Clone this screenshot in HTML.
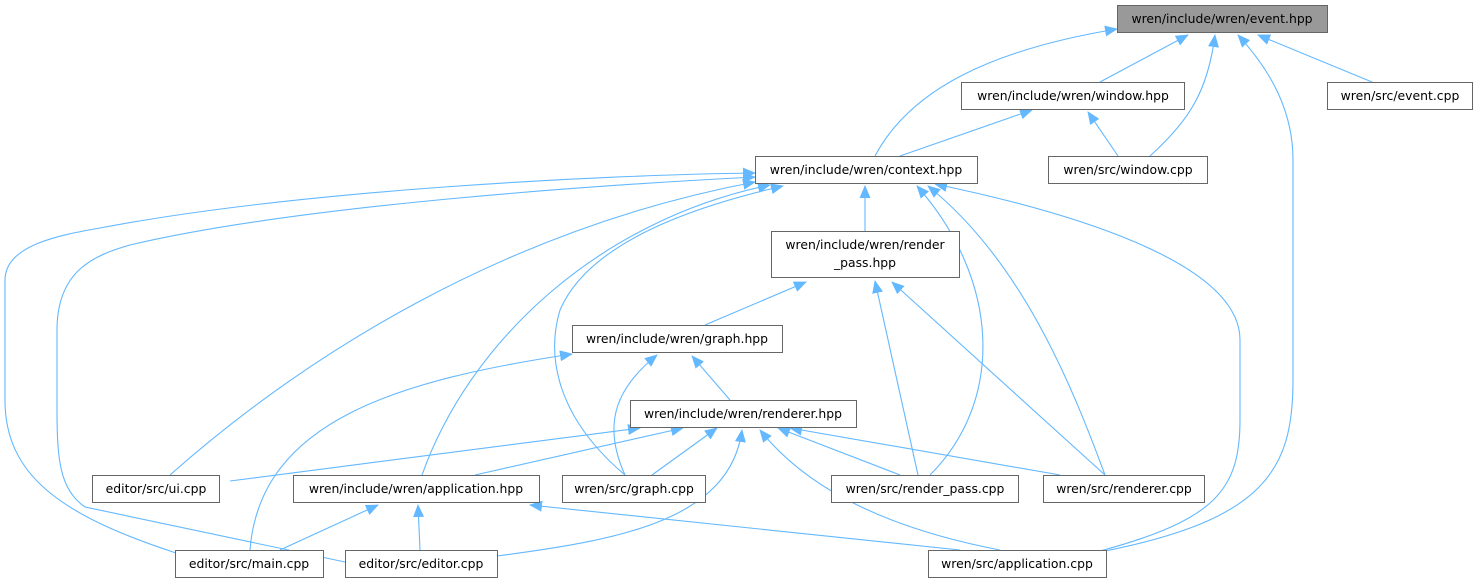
<!DOCTYPE html>
<html><head><meta charset="utf-8"><style>
html,body{margin:0;padding:0;background:#fff;width:1479px;height:585px;overflow:hidden}
svg text{font-family:"DejaVu Sans","Liberation Sans",sans-serif;font-size:12.4px;fill:#000}
</style></head><body>
<svg width="1479" height="585" viewBox="0 0 1479 585" xmlns="http://www.w3.org/2000/svg">
<defs><marker id="a" markerWidth="13" markerHeight="11" refX="12" refY="5.5" orient="auto" markerUnits="userSpaceOnUse"><path d="M0,0 L13,5.5 L0,11 Z" fill="#63b8ff"/></marker></defs>
<g fill="none" stroke="#63b8ff" stroke-width="1.1" marker-end="url(#a)">
<path d="M875,156 C910,90 990,50 1117,29"/>
<path d="M1100,82 L1188,35"/>
<path d="M1150,156 C1190,120 1208,90 1215,35"/>
<path d="M1100,552 C1265,520 1293,470 1293,380 L1293,160 C1293,110 1270,70 1238,35"/>
<path d="M1372,82 L1258,35"/>
<path d="M900,156 L1032,110"/>
<path d="M1118,156 L1088,112"/>
<path d="M865,231 L865,186"/>
<path d="M170,475 C300,360 500,230 755,182"/>
<path d="M422,475 C470,340 600,220 770,185"/>
<path d="M625,475 C560,420 545,360 560,310 C590,240 700,205 783,186"/>
<path d="M176,553 C60,515 5,475 5,400 L5,280 C5,245 60,235 100,228 C300,190 600,175 755,173"/>
<path d="M345,562 L85,507 C60,490 57,460 57,410 L57,330 C57,270 95,255 130,245 C300,205 600,185 755,177"/>
<path d="M930,475 C1005,400 1000,280 917,186"/>
<path d="M1105,475 C1070,380 1020,260 928,186"/>
<path d="M1100,551 C1215,520 1240,490 1240,420 L1240,340 C1240,260 1060,210 935,184"/>
<path d="M705,325 L806,282"/>
<path d="M918,475 L875,281"/>
<path d="M1105,475 L892,282"/>
<path d="M730,400 L692,356"/>
<path d="M625,475 C600,420 620,385 657,355"/>
<path d="M250,550 C260,420 400,380 572,354"/>
<path d="M230,481 L640,428"/>
<path d="M475,475 L683,428"/>
<path d="M652,475 L717,428"/>
<path d="M497,556 C620,540 730,520 742,430"/>
<path d="M1000,550 C870,525 800,480 760,430"/>
<path d="M900,475 L778,428"/>
<path d="M1060,475 L790,428"/>
<path d="M280,550 L378,505"/>
<path d="M420,550 L418,505"/>
<path d="M960,550 L530,505"/>
</g>
<g stroke="#666" stroke-width="1" fill="#fff">
<rect x="1117.5" y="5.5" width="210" height="27" fill="#999"/>
<rect x="961.5" y="82.5" width="223" height="27"/>
<rect x="1327.5" y="82.5" width="145" height="27"/>
<rect x="755.5" y="156.5" width="222" height="27"/>
<rect x="1048.5" y="156.5" width="159" height="27"/>
<rect x="771.5" y="231.5" width="188" height="46"/>
<rect x="572.5" y="325.5" width="210" height="27"/>
<rect x="630.5" y="400.5" width="226" height="27"/>
<rect x="92.5" y="475.5" width="127" height="27"/>
<rect x="293.5" y="475.5" width="246" height="27"/>
<rect x="562.5" y="475.5" width="143" height="27"/>
<rect x="831.5" y="475.5" width="187" height="27"/>
<rect x="1043.5" y="475.5" width="161" height="27"/>
<rect x="175.5" y="550.5" width="148" height="27"/>
<rect x="345.5" y="550.5" width="152" height="27"/>
<rect x="928.5" y="550.5" width="178" height="27"/>
</g>
<g text-anchor="middle">
<text x="1222" y="23">wren/include/wren/event.hpp</text>
<text x="1073" y="100">wren/include/wren/window.hpp</text>
<text x="1400" y="100">wren/src/event.cpp</text>
<text x="866" y="174">wren/include/wren/context.hpp</text>
<text x="1128" y="174">wren/src/window.cpp</text>
<text x="865" y="249">wren/include/wren/render</text>
<text x="865" y="267">_pass.hpp</text>
<text x="677" y="343">wren/include/wren/graph.hpp</text>
<text x="743" y="418">wren/include/wren/renderer.hpp</text>
<text x="156" y="493">editor/src/ui.cpp</text>
<text x="416" y="493">wren/include/wren/application.hpp</text>
<text x="634" y="493">wren/src/graph.cpp</text>
<text x="925" y="493">wren/src/render_pass.cpp</text>
<text x="1124" y="493">wren/src/renderer.cpp</text>
<text x="249" y="568">editor/src/main.cpp</text>
<text x="421" y="568">editor/src/editor.cpp</text>
<text x="1017" y="568">wren/src/application.cpp</text>
</g>
</svg>
</body></html>
